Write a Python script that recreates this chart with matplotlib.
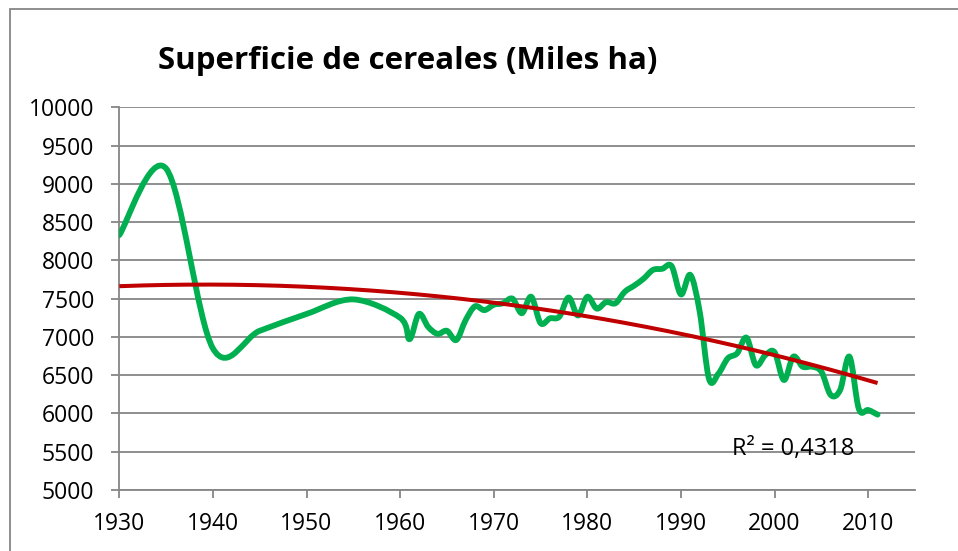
import numpy as np
import matplotlib
matplotlib.use("Agg")
import matplotlib.pyplot as plt
from matplotlib.path import Path
from matplotlib.patches import PathPatch, Rectangle

plt.rcParams['font.family'] = ['Open Sans', 'DejaVu Sans']

title = "Superficie de cereales (Miles ha)"
r2_label = "R² = 0,4318"

years = [1930, 1935, 1940, 1945, 1950, 1955, 1960,
         1961, 1962, 1963, 1964, 1965, 1966, 1967, 1968, 1969, 1970,
         1971, 1972, 1973, 1974, 1975, 1976, 1977, 1978, 1979, 1980,
         1981, 1982, 1983, 1984, 1985, 1986, 1987, 1988, 1989, 1990,
         1991, 1992, 1993, 1994, 1995, 1996, 1997, 1998, 1999, 2000,
         2001, 2002, 2003, 2004, 2005, 2006, 2007, 2008, 2009, 2010, 2011]
values = [8330, 9200, 6850, 7080, 7300, 7490, 7250,
          6970, 7300, 7130, 7040, 7080, 6960, 7220, 7400, 7350, 7420,
          7440, 7500, 7310, 7525, 7180, 7243, 7264, 7515, 7280, 7525,
          7370, 7455, 7440, 7590, 7670, 7760, 7875, 7890, 7925, 7555,
          7810, 7330, 6450, 6520, 6720, 6786, 6990, 6630, 6760, 6800,
          6437, 6742, 6611, 6611, 6546, 6241, 6306, 6742, 6060, 6045, 5985]

x_ticks = list(range(1930, 2011, 10))
y_ticks = list(range(5000, 10001, 500))

GREEN = "#00B050"
RED = "#C00000"
GRID = "#868686"

fig = plt.figure(figsize=(9.58, 5.51), dpi=100)
fig.patch.set_facecolor("white")

# chart area border (cropped on right/bottom)
fig.patches.append(Rectangle((10 / 958, -0.05), 1.0, 1 - 9 / 551 + 0.05,
                             transform=fig.transFigure, fill=False,
                             edgecolor=GRID, linewidth=1.3, zorder=0))

ax = fig.add_axes([119.3 / 958, 1 - 490 / 551, (915 - 119.3) / 958, (490 - 107.3) / 551])
ax.set_xlim(1930, 2015)
ax.set_ylim(5000, 10000)

# smoothed line (Catmull-Rom style Bezier like Excel)
P = np.column_stack([years, values]).astype(float)
n = len(P)
verts = [tuple(P[0])]
codes = [Path.MOVETO]
for i in range(n - 1):
    p0 = P[i - 1] if i > 0 else P[i]
    p1 = P[i]
    p2 = P[i + 1]
    p3 = P[i + 2] if i + 2 < n else P[i + 1]
    c1 = p1 + (p2 - p0) / 6.0
    c2 = p2 - (p3 - p1) / 6.0
    verts += [tuple(c1), tuple(c2), tuple(p2)]
    codes += [Path.CURVE4] * 3
path = Path(verts, codes)
ax.add_patch(PathPatch(path, facecolor="none", edgecolor=GREEN, linewidth=4.2,
                       capstyle="round", joinstyle="round", zorder=3))

# polynomial trend line (order 2)
coef = np.polyfit(np.array(years, float) - 1930, np.array(values, float), 2)
tx = np.linspace(1930, 2011, 200)
ax.plot(tx, np.polyval(coef, tx - 1930), color=RED, linewidth=2.9, zorder=4,
        solid_capstyle="butt")

ax.text(1995.4, 5530, r2_label, fontsize=17, ha="left", va="center", color="black")

ax.set_xticks(x_ticks)
ax.set_yticks(y_ticks)
ax.grid(axis="y", color=GRID, linewidth=1.3)
ax.set_axisbelow(True)
for s in ["top", "right"]:
    ax.spines[s].set_visible(False)
for s in ["left", "bottom"]:
    ax.spines[s].set_color(GRID)
    ax.spines[s].set_linewidth(1.3)
ax.tick_params(axis="both", colors=GRID, labelcolor="black", labelsize=16.5,
               width=1.3, length=6)
ax.tick_params(axis="y", pad=12)
ax.tick_params(axis="x", pad=10)

fig.text(408 / 958, 1 - 61 / 551, title, fontsize=22.5, fontweight="bold",
         ha="center", va="center")

fig.savefig("out.png", dpi=100, facecolor="white")
